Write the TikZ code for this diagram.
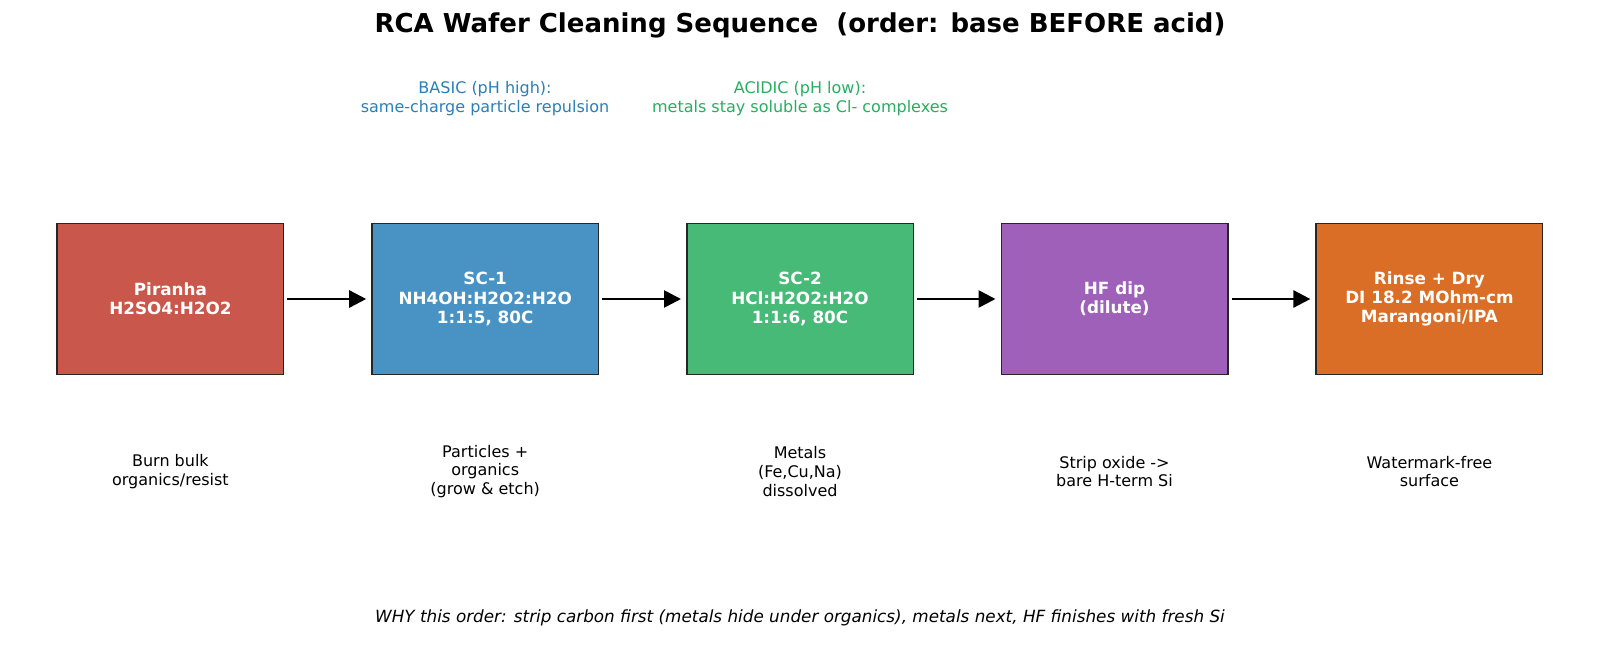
\documentclass[tikz,border=0pt]{standalone}
\usepackage{fontspec}
\setmainfont{DejaVu Sans}
\usetikzlibrary{arrows.meta}
\definecolor{cred}{RGB}{202,87,75}
\definecolor{cblue}{RGB}{73,147,196}
\definecolor{cgreen}{RGB}{71,186,120}
\definecolor{cpurple}{RGB}{159,96,185}
\definecolor{corange}{RGB}{218,110,38}
\definecolor{tblue}{RGB}{41,128,185}
\definecolor{tgreen}{RGB}{39,174,96}
\tikzset{
  stepbox/.style={draw=black!85, line width=1.5pt, minimum width=226.5pt, minimum height=151pt,
    align=center, text=white, inner sep=0pt, font=\fontsize{16.8}{19.4}\selectfont\bfseries},
  flowarr/.style={line width=2.6pt, -{Triangle[length=17pt,width=17pt]}, shorten <=3pt, shorten >=5pt},
  note/.style={align=center, font=\fontsize{16}{18.6}\selectfont},
}
\begin{document}
\begin{tikzpicture}[x=1pt,y=-1pt]
\useasboundingbox[fill=white] (0,0) rectangle (1600,658);
\node[font=\fontsize{26}{30}\selectfont\bfseries] (title) at (800,25) {RCA Wafer Cleaning Sequence\ \ (order: base BEFORE acid)};

\node[note, text=tblue] (basic) at (485,98.5) {BASIC (pH high):\\same-charge particle repulsion};
\node[note, text=tgreen] (acidic) at (800,98.5) {ACIDIC (pH low):\\metals stay soluble as Cl- complexes};

\node[stepbox, fill=cred] (b1) at (170.4,299) {Piranha\\H2SO4:H2O2};
\node[stepbox, fill=cblue] (b2) at (485.2,299) {SC-1\\NH4OH:H2O2:H2O\\1:1:5, 80C};
\node[stepbox, fill=cgreen] (b3) at (800,299) {SC-2\\HCl:H2O2:H2O\\1:1:6, 80C};
\node[stepbox, fill=cpurple] (b4) at (1114.5,299) {HF dip\\(dilute)};
\node[stepbox, fill=corange] (b5) at (1429.4,299) {Rinse + Dry\\DI 18.2 MOhm-cm\\Marangoni/IPA};

\draw[flowarr] (b1) -- (b2);
\draw[flowarr] (b2) -- (b3);
\draw[flowarr] (b3) -- (b4);
\draw[flowarr] (b4) -- (b5);

\node[note] (l1) at (170.4,471.5) {Burn bulk\\organics/resist};
\node[note] (l2) at (485.2,471.5) {Particles +\\organics\\(grow \& etch)};
\node[note] (l3) at (800,471.5) {Metals\\(Fe,Cu,Na)\\dissolved};
\node[note] (l4) at (1114.5,471.5) {Strip oxide ->\\bare H-term Si};
\node[note] (l5) at (1429.4,471.5) {Watermark-free\\surface};

\node[font=\fontsize{16.8}{19}\selectfont\itshape] (why) at (800,618) {WHY this order: strip carbon first (metals hide under organics), metals next, HF finishes with fresh Si};
\end{tikzpicture}
\end{document}
